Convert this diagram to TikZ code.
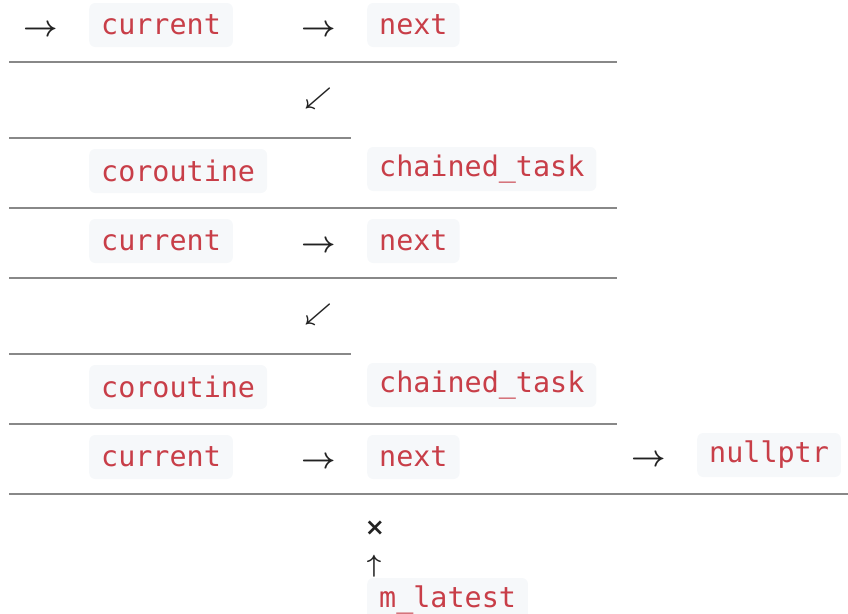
\documentclass[tikz,border=0pt]{standalone}
\usepackage{fontspec}
\usepackage{graphicx}
\newfontfamily\codefont{DejaVu Sans Mono}
\newfontfamily\symfont{DejaVu Sans}
\definecolor{codebg}{RGB}{246,248,250}
\definecolor{codered}{RGB}{200,62,72}
\definecolor{rulegray}{RGB}{136,136,136}
\definecolor{glyph}{RGB}{34,34,34}
\newcommand{\rarr}{\scalebox{3}{\boldmath$\rightarrow$}}
\newcommand{\swarr}{\scalebox{2.4}{\boldmath$\swarrow$}}
\tikzset{
  code/.style={fill=codebg,text=codered,rounded corners=6,anchor=west,
    inner xsep=12,inner ysep=0,minimum height=44,
    font=\fontsize{28.4}{30}\codefont},
  rule/.style={draw=rulegray,line width=2},
  sym/.style={text=glyph,inner sep=0}
}
\begin{document}
\begin{tikzpicture}[x=1pt,y=-1pt]
		\useasboundingbox (0,0) rectangle (848,613);
		% rules of the table
		\draw[rule] (9,62) -- (617,62);
		\draw[rule] (9,138) -- (351,138);
		\draw[rule] (9,208) -- (617,208);
		\draw[rule] (9,278) -- (617,278);
		\draw[rule] (9,354) -- (351,354);
		\draw[rule] (9,424) -- (617,424);
		\draw[rule] (9,494) -- (848,494);
		% row 1
		\node[sym] (in) at (41,31) {\rarr};
		\node[code] (cur1) at (89,25) {current};
		\node[sym] (to1) at (319,31) {\rarr};
		\node[code] (next1) at (367,25) {next};
		\node[sym] (sw1) at (318,98) {\swarr};
		% row 3
		\node[code] (co1) at (89,171) {coroutine};
		\node[code] (ct1) at (367,169) {chained\_task};
		% row 4
		\node[code] (cur2) at (89,241) {current};
		\node[sym] (to2) at (319,247) {\rarr};
		\node[code] (next2) at (367,241) {next};
		\node[sym] (sw2) at (318,314) {\swarr};
		% row 6
		\node[code] (co2) at (89,387) {coroutine};
		\node[code] (ct2) at (367,385) {chained\_task};
		% row 7
		\node[code] (cur3) at (89,457) {current};
		\node[sym] (to3) at (319,463) {\rarr};
		\node[code] (next3) at (367,457) {next};
		\node[sym] (to4) at (649,461) {\rarr};
		\node[code] (null) at (697,455) {nullptr};
		% m_latest
		\node[sym,font=\fontsize{24}{24}\symfont\bfseries] (cross) at (375,528) {×};
		\node[sym] (up) at (374,566) {\scalebox{2.5}{\boldmath$\uparrow$}};
		\node[code] (latest) at (367,600) {m\_latest};
	\end{tikzpicture}
\end{document}
